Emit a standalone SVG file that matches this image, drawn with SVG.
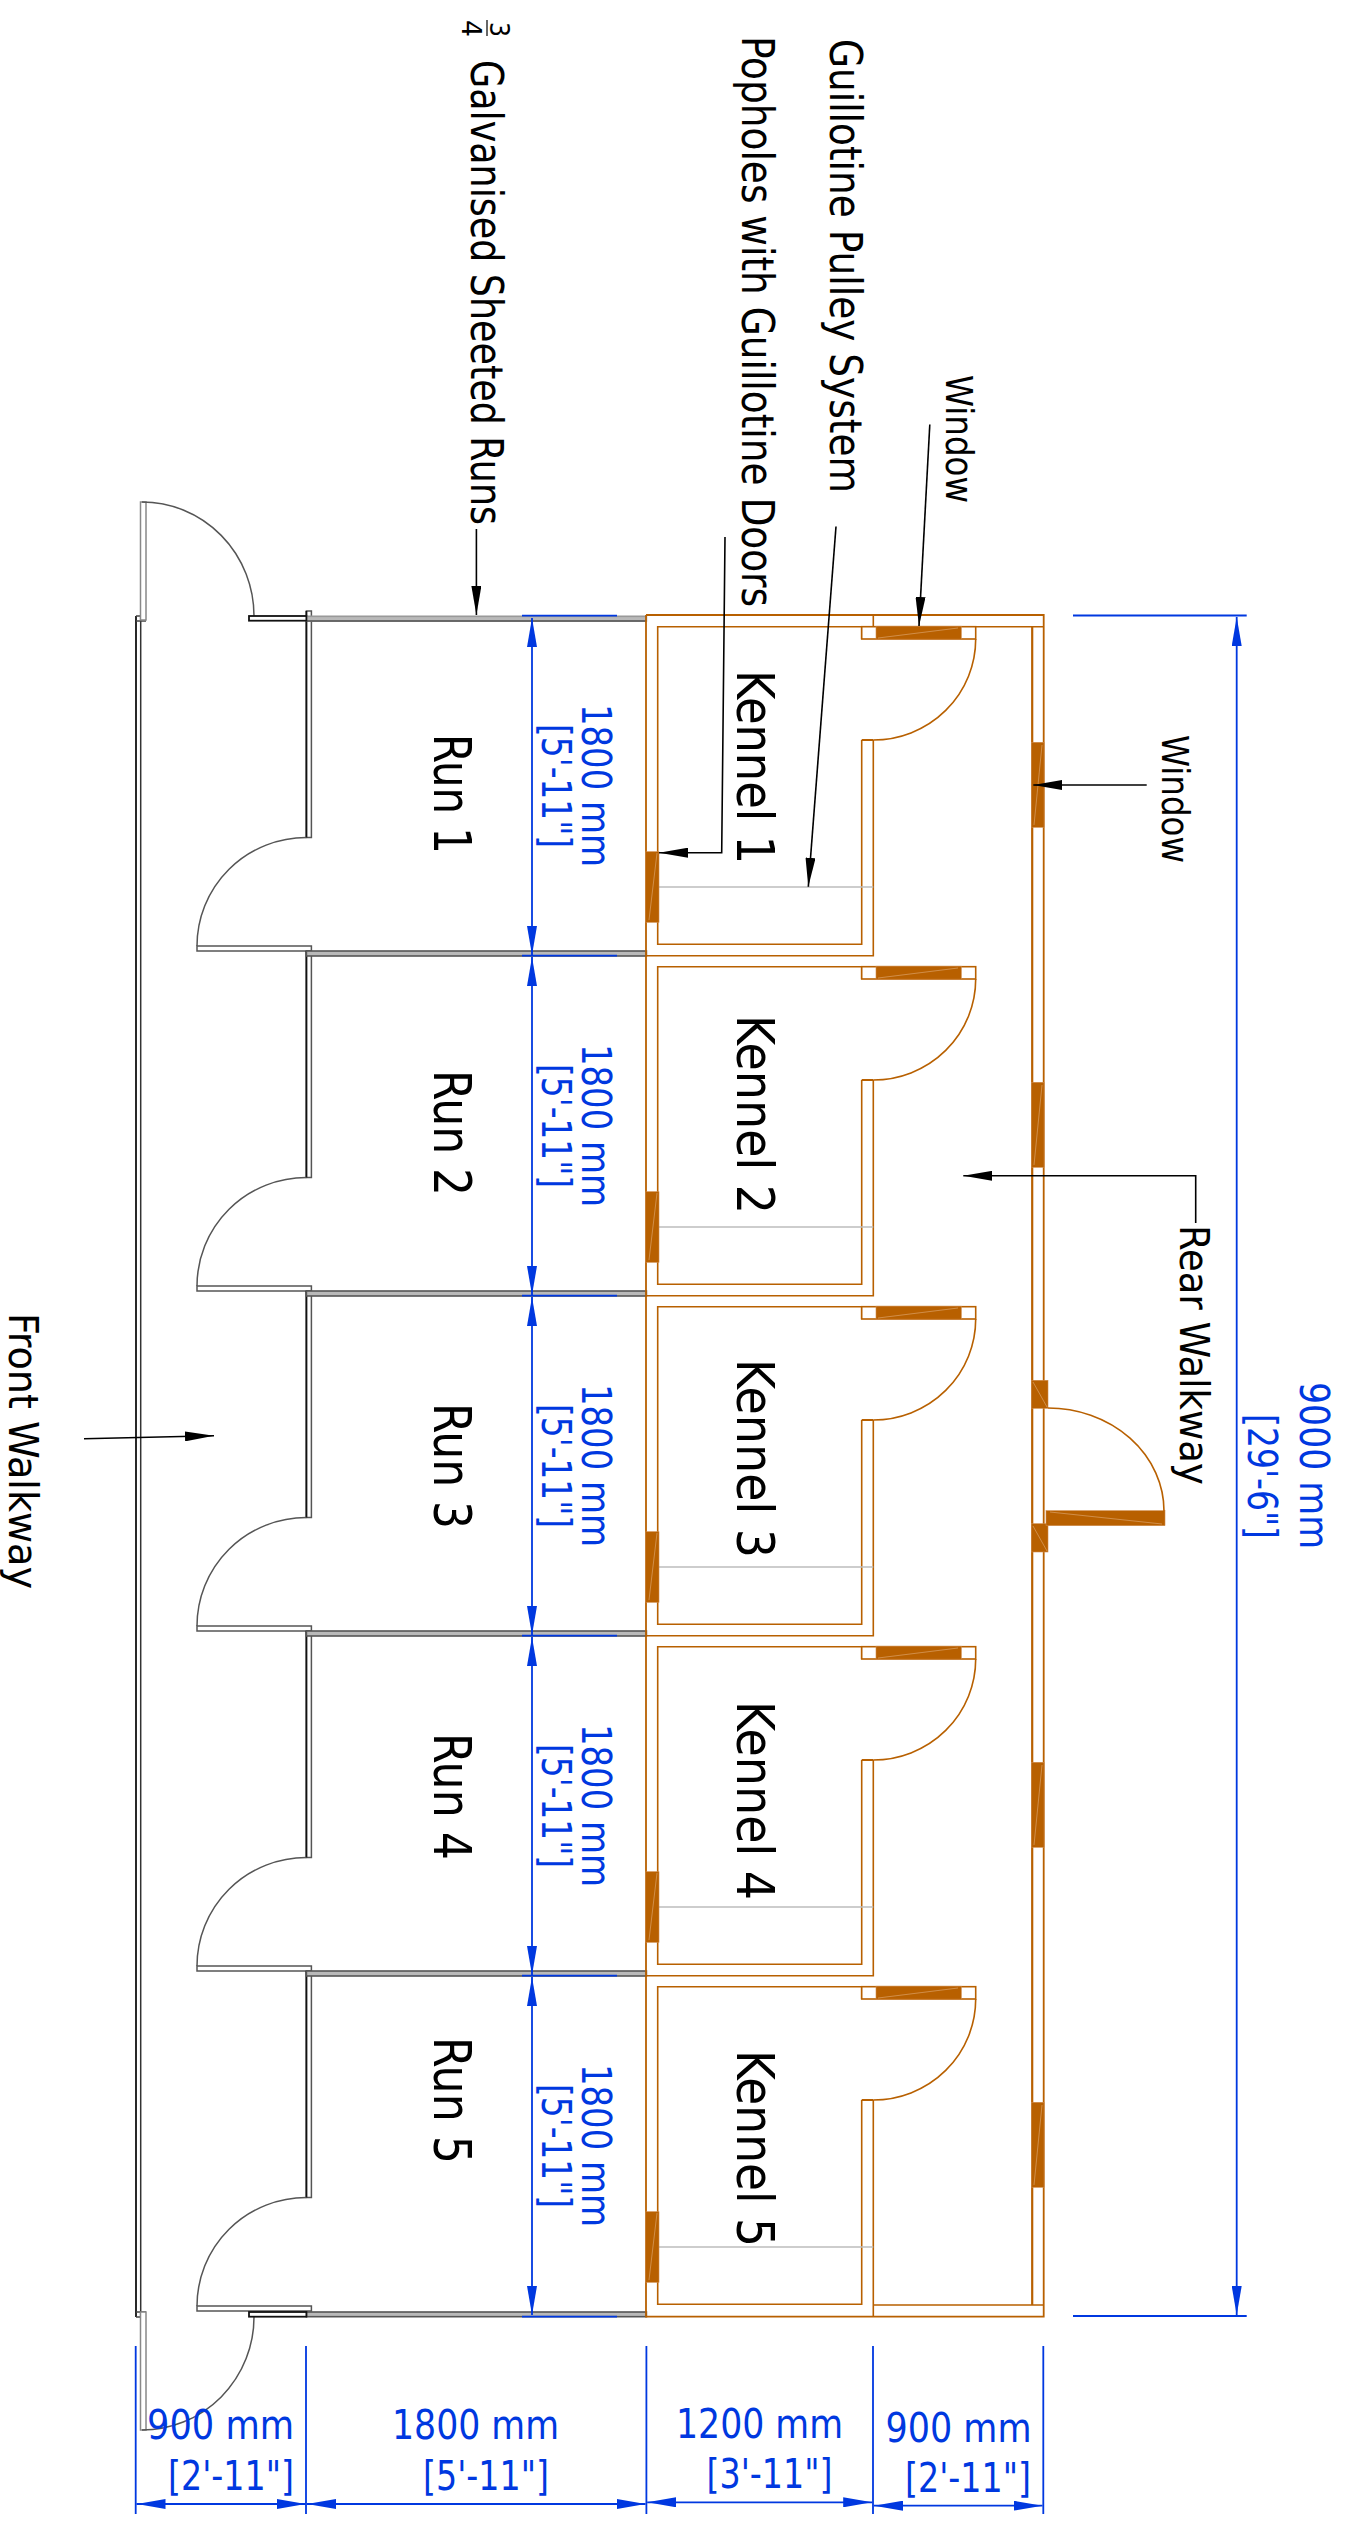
<svg xmlns="http://www.w3.org/2000/svg" width="1348" height="2526" viewBox="0 0 1348 2526">
<style>
text{font-family:"DejaVu Sans","Noto Sans",sans-serif;font-stretch:condensed;fill:#000}
.rn{font-size:52px}.lb{font-size:44px}.w{font-size:37px}.wk{font-size:41px}.fr{font-size:27px}
.d{font-size:41px;fill:#0038e0}
.o{fill:none;stroke:#b86000;stroke-width:1.6}.ot{fill:none;stroke:#b86000;stroke-width:2}
.br{fill:#b86000;stroke:#cf8a4a;stroke-width:.6}.hl{stroke:#e0ad7a;stroke-width:.6;fill:none}
.gl{stroke:#bdbdbd;stroke-width:1.6;fill:none}
.g{fill:#fff;stroke:#555;stroke-width:1.5}.gd{fill:#b9b9b9;stroke:#555;stroke-width:1.6}
.a{fill:none;stroke:#555;stroke-width:1.5}
.k{fill:none;stroke:#111;stroke-width:1.8}
.c{fill:none;stroke:#000;stroke-width:1.6}
.cm{fill:none;stroke:#000;stroke-width:1.6;marker-end:url(#ak)}
.bl{fill:none;stroke:#0038e0;stroke-width:1.8}
.bd{fill:none;stroke:#0038e0;stroke-width:1.8;marker-start:url(#ab);marker-end:url(#ab)}
</style>
<defs>
<marker id="ak" markerUnits="userSpaceOnUse" markerWidth="29" markerHeight="10" viewBox="0 0 29 10" refX="29" refY="5" orient="auto"><path d="M0 0L29 5L0 10Z" fill="#000"/></marker>
<marker id="ab" markerUnits="userSpaceOnUse" markerWidth="29" markerHeight="10" viewBox="0 0 29 10" refX="29" refY="5" orient="auto-start-reverse"><path d="M0 0L29 5L0 10Z" fill="#0038e0"/></marker>
<g id="run-shape">
<rect class="g" x="306.4" y="611" width="5" height="226.5"/>
<path class="k" d="M306.4 611V837.5"/>
<path class="a" d="M306.4 837.5A109.4 108.5 0 0 0 197 946"/>
<rect class="g" x="197" y="946" width="114.4" height="5"/>
</g>
<g id="kennel-shape">
<path class="o" d="M861.7 639V626.7H657.7V944.3H861.7V740"/>
<rect class="o" x="861.7" y="626.7" width="114" height="12.3" style="fill:#fff"/>
<rect class="br" x="876" y="626.2" width="85.3" height="13"/>
<path class="hl" d="M878 638L958 628"/>
<path class="ot" d="M861.7 740H873.3"/>
<path class="o" d="M975.7 639A102.4 101 0 0 1 873.3 740"/>
<path class="gl" d="M657.7 887H873.3"/>
<rect class="br" x="645.7" y="851.7" width="13.3" height="70.6"/>
<path class="hl" d="M649 920L657 853"/>
</g>
<g id="win-shape">
<rect class="br" x="1031.7" y="742.3" width="12.4" height="85"/>
<path class="hl" d="M1034 825L1042 745"/>
</g>
</defs>

<g id="front-walkway-wall">
<path class="k" d="M136 616V2317"/>
<path class="k" d="M140.7 616V2317" style="stroke:#333;stroke-width:1.5"/>
<path class="k" d="M136 616H146M136 621H146M136 2312H146M136 2317H146" style="stroke:#444;stroke-width:1.4"/>
<rect x="140.5" y="502" width="5.5" height="118" fill="#fff" stroke="#888" stroke-width="1.5"/>
<path class="a" d="M142 502A112 114 0 0 1 254 616"/>
<rect x="140.5" y="2312" width="5.5" height="118" fill="#fff" stroke="#888" stroke-width="1.5"/>
<path class="a" d="M254 2317A112 113 0 0 1 142 2430"/>
</g>

<g id="run-1"><use href="#run-shape"/>
<rect class="gd" x="306.4" y="616.3" width="340" height="4.7" style="stroke:#999"/>
<path d="M306 621H646" stroke="#555" stroke-width="1.6"/>
<rect x="249" y="616" width="57.4" height="4.7" fill="#fff" stroke="#111" stroke-width="1.8"/>
<text class="rn" transform="translate(434,734) rotate(90)" textLength="120" lengthAdjust="spacingAndGlyphs">Run 1</text></g>
<g id="run-2"><use href="#run-shape" y="340"/>
<rect class="gd" x="306.4" y="951" width="340" height="5"/>
<text class="rn" transform="translate(434,1070) rotate(90)" textLength="126" lengthAdjust="spacingAndGlyphs">Run 2</text></g>
<g id="run-3"><use href="#run-shape" y="680"/>
<rect class="gd" x="306.4" y="1291" width="340" height="5"/>
<text class="rn" transform="translate(434,1403) rotate(90)" textLength="126" lengthAdjust="spacingAndGlyphs">Run 3</text></g>
<g id="run-4"><use href="#run-shape" y="1020"/>
<rect class="gd" x="306.4" y="1631" width="340" height="5"/>
<text class="rn" transform="translate(434,1733) rotate(90)" textLength="127" lengthAdjust="spacingAndGlyphs">Run 4</text></g>
<g id="run-5"><use href="#run-shape" y="1360"/>
<rect class="gd" x="306.4" y="1971" width="340" height="5"/>
<rect class="gd" x="306.4" y="2312" width="340" height="4.7"/>
<rect x="249" y="2312" width="57.4" height="4.7" fill="#fff" stroke="#111" stroke-width="1.8"/>
<text class="rn" transform="translate(434,2037) rotate(90)" textLength="127" lengthAdjust="spacingAndGlyphs">Run 5</text></g>

<g id="kennel-walls">
<path class="o" d="M646 615V2316.7H1043.7V615H646" style="stroke-width:1.8"/>
<path class="ot" d="M1032.2 626.7V2305" style="stroke-width:2.2"/>
<path class="o" d="M861.7 626.7H1043.7M873.3 615V626.7M873.3 2100V2316.7M873.3 2305H1043.7"/>
<path class="o" d="M646 955.7H873.3V740M646 1295.7H873.3V1080M646 1635.7H873.3V1420M646 1975.7H873.3V1760"/>
</g>
<g id="kennel-1"><use href="#kennel-shape"/>
<text class="rn" transform="translate(736.5,670) rotate(90)" textLength="194" lengthAdjust="spacingAndGlyphs">Kennel 1</text></g>
<g id="kennel-2"><use href="#kennel-shape" y="340"/>
<text class="rn" transform="translate(736.5,1015) rotate(90)" textLength="199" lengthAdjust="spacingAndGlyphs">Kennel 2</text></g>
<g id="kennel-3"><use href="#kennel-shape" y="680"/>
<text class="rn" transform="translate(736.5,1359) rotate(90)" textLength="199" lengthAdjust="spacingAndGlyphs">Kennel 3</text></g>
<g id="kennel-4"><use href="#kennel-shape" y="1020"/>
<text class="rn" transform="translate(736.5,1701) rotate(90)" textLength="199" lengthAdjust="spacingAndGlyphs">Kennel 4</text></g>
<g id="kennel-5"><use href="#kennel-shape" y="1360"/>
<text class="rn" transform="translate(736.5,2050) rotate(90)" textLength="197" lengthAdjust="spacingAndGlyphs">Kennel 5</text></g>

<g id="windows">
<use href="#win-shape"/><use href="#win-shape" y="340"/><use href="#win-shape" y="1020"/><use href="#win-shape" y="1360"/>
</g>
<g id="rear-door">
<rect class="br" x="1031.7" y="1380.3" width="16.3" height="28"/>
<path class="hl" d="M1033 1382L1047 1407"/>
<rect class="br" x="1031.7" y="1523.7" width="16.3" height="28.3"/>
<path class="hl" d="M1033 1526L1047 1551"/>
<rect class="br" x="1046" y="1510.7" width="119" height="15"/>
<path class="hl" d="M1050 1512L1162 1524"/>
<path class="o" d="M1048 1408A116 103 0 0 1 1164 1511"/>
</g>

<g id="connectors">
<path class="cm" d="M476.4 529V615"/>
<path class="cm" d="M725 537L721.7 852.7H659"/>
<path class="cm" d="M836 526.5L808.3 886.7"/>
<path class="cm" d="M929.8 424.5L919 626"/>
<path class="cm" d="M1146.7 785H1033.3"/>
<path class="cm" d="M1195.7 1223V1175.8H963.3"/>
<path class="cm" d="M84 1438.7L214 1435.7"/>
<g id="dimensions">
<path class="bl" d="M522 615.7H617M522 955.7H617M522 1295.7H617M522 1635.7H617M522 1975.7H617M522 2316.7H617"/>
<path class="bd" d="M532 618V955"/><path class="bd" d="M532 957V1295"/><path class="bd" d="M532 1297V1635"/><path class="bd" d="M532 1637V1975"/><path class="bd" d="M532 1977V2315"/>
<path class="bl" d="M1073 615.5H1246.7M1073 2316H1246.7"/>
<path class="bd" d="M1236.7 617V2315"/>
<path class="bl" d="M135.7 2346V2514M306 2346V2514M646.4 2346V2514M873 2346V2514M1043.3 2346V2514"/>
<path class="bd" d="M136.5 2504H305.5"/><path class="bd" d="M307 2504H645.5"/><path class="bd" d="M647.2 2502.3H872.2"/><path class="bd" d="M874 2505.7H1042.5"/>
</g>
</g>

<g id="dimension-labels">
<text class="d" transform="translate(581.7,704) rotate(90)" textLength="163" lengthAdjust="spacingAndGlyphs">1800 mm</text>
<text class="d" transform="translate(542,724) rotate(90)" textLength="124" lengthAdjust="spacingAndGlyphs">[5'-11"]</text>
<text class="d" transform="translate(581.7,1044) rotate(90)" textLength="163" lengthAdjust="spacingAndGlyphs">1800 mm</text>
<text class="d" transform="translate(542,1064) rotate(90)" textLength="124" lengthAdjust="spacingAndGlyphs">[5'-11"]</text>
<text class="d" transform="translate(581.7,1384) rotate(90)" textLength="163" lengthAdjust="spacingAndGlyphs">1800 mm</text>
<text class="d" transform="translate(542,1404) rotate(90)" textLength="124" lengthAdjust="spacingAndGlyphs">[5'-11"]</text>
<text class="d" transform="translate(581.7,1724) rotate(90)" textLength="163" lengthAdjust="spacingAndGlyphs">1800 mm</text>
<text class="d" transform="translate(542,1744) rotate(90)" textLength="124" lengthAdjust="spacingAndGlyphs">[5'-11"]</text>
<text class="d" transform="translate(581.7,2064) rotate(90)" textLength="163" lengthAdjust="spacingAndGlyphs">1800 mm</text>
<text class="d" transform="translate(542,2084) rotate(90)" textLength="124" lengthAdjust="spacingAndGlyphs">[5'-11"]</text>
<text class="d" transform="translate(1300,1382) rotate(90)" textLength="167" lengthAdjust="spacingAndGlyphs">9000 mm</text>
<text class="d" transform="translate(1248,1414) rotate(90)" textLength="125" lengthAdjust="spacingAndGlyphs">[29'-6"]</text>
<text class="d" x="147" y="2439.3" textLength="147" lengthAdjust="spacingAndGlyphs">900 mm</text>
<text class="d" x="168" y="2490" textLength="126" lengthAdjust="spacingAndGlyphs">[2'-11"]</text>
<text class="d" x="392" y="2439.3" textLength="167" lengthAdjust="spacingAndGlyphs">1800 mm</text>
<text class="d" x="423" y="2490" textLength="126" lengthAdjust="spacingAndGlyphs">[5'-11"]</text>
<text class="d" x="676" y="2438.3" textLength="167" lengthAdjust="spacingAndGlyphs">1200 mm</text>
<text class="d" x="706.5" y="2488" textLength="126" lengthAdjust="spacingAndGlyphs">[3'-11"]</text>
<text class="d" x="885.5" y="2441.7" textLength="146" lengthAdjust="spacingAndGlyphs">900 mm</text>
<text class="d" x="905" y="2491.7" textLength="126" lengthAdjust="spacingAndGlyphs">[2'-11"]</text>
</g>

<g id="annotations">
<text class="fr" transform="translate(490,22) rotate(90)" textLength="15" lengthAdjust="spacingAndGlyphs">3</text>
<path d="M487 20V36" stroke="#000" stroke-width="1.2"/>
<text class="fr" transform="translate(462,20) rotate(90)" textLength="17" lengthAdjust="spacingAndGlyphs">4</text>
<text class="lb" transform="translate(470.5,60) rotate(90)" textLength="465" lengthAdjust="spacingAndGlyphs">Galvanised Sheeted Runs</text>
<text class="lb" transform="translate(742.2,36) rotate(90)" textLength="571" lengthAdjust="spacingAndGlyphs">Popholes with Guillotine Doors</text>
<text class="lb" transform="translate(830.3,39) rotate(90)" textLength="454" lengthAdjust="spacingAndGlyphs">Guillotine Pulley System</text>
<text class="w" transform="translate(946.2,375) rotate(90)" textLength="128" lengthAdjust="spacingAndGlyphs">Window</text>
<text class="w" transform="translate(1161.7,735) rotate(90)" textLength="128" lengthAdjust="spacingAndGlyphs">Window</text>
<text class="wk" transform="translate(1180,1225) rotate(90)" textLength="260" lengthAdjust="spacingAndGlyphs">Rear Walkway</text>
<text class="wk" transform="translate(9.3,1313) rotate(90)" textLength="276" lengthAdjust="spacingAndGlyphs">Front Walkway</text>
</g>
</svg>
